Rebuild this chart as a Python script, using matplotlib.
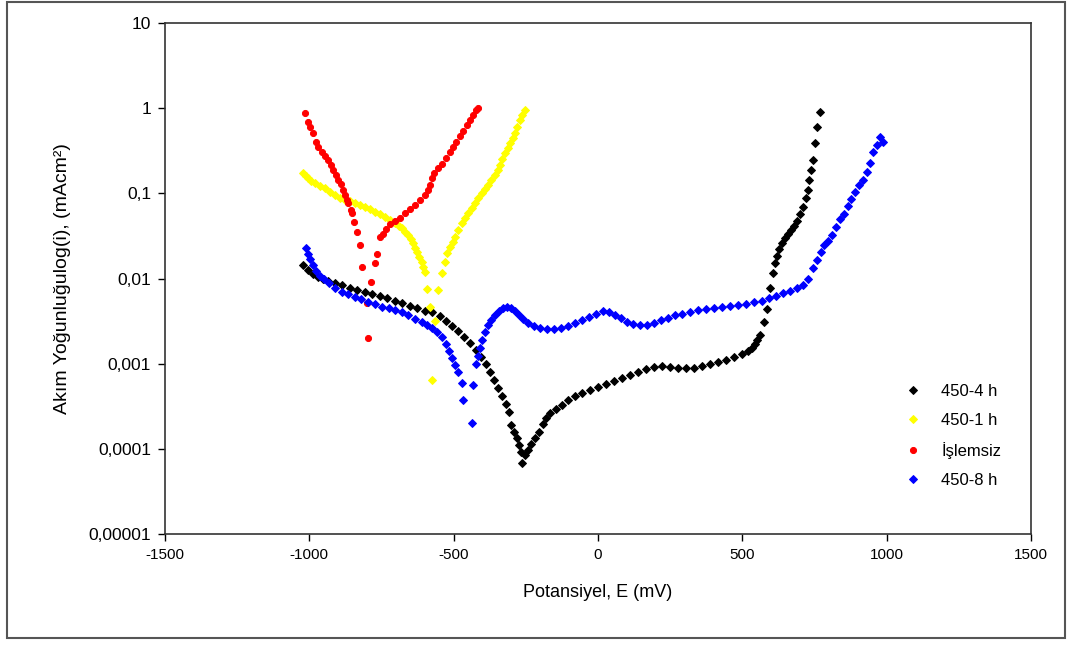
#!/usr/bin/env python3
"""Tafel polarisation curves (log current density vs potential)."""

import matplotlib
matplotlib.use("Agg")
import matplotlib.pyplot as plt
from matplotlib.patches import Rectangle
from matplotlib.ticker import FixedLocator, FixedFormatter

# 450-4h (black)
E_4h = [-1022, -1005, -987, -970, -953, -935, -911, -887, -859, -835,
        -807, -783, -755, -731, -703, -679, -651, -627, -599, -575,
        -547, -527, -506, -485, -464, -443, -423, -405, -388, -374,
        -360, -346, -333, -319, -308, -301, -291, -281, -274, -267,
        -263, -253, -243, -232, -218, -204, -191, -180, -166, -146,
        -125, -104, -80, -56, -28, 0, 28, 55, 83, 111,
        138, 166, 194, 222, 249, 277, 305, 332, 360, 388,
        416, 443, 471, 499, 520, 533, 544, 551, 561, 575,
        585, 596, 606, 613, 620, 627, 637, 648, 658, 668,
        679, 689, 700, 710, 720, 727, 730, 738, 745, 752,
        759, 769]
i_4h = [0.0144, 0.0126, 0.0113, 0.0104, 0.00987, 0.00935, 0.00886, 0.00828, 0.00774, 0.00733,
        0.00694, 0.00658, 0.00615, 0.00583, 0.00545, 0.00510, 0.00476, 0.00451, 0.00416, 0.00405,
        0.00363, 0.00317, 0.00277, 0.00242, 0.00206, 0.00175, 0.00145, 0.00119, 0.00099, 0.000799,
        0.000643, 0.000518, 0.000418, 0.000337, 0.000271, 0.000190, 0.000157, 0.000134, 0.000111, 0.0000919,
        0.0000682, 0.0000847, 0.0000970, 0.000114, 0.000134, 0.000157, 0.000196, 0.000230, 0.000264, 0.000294,
        0.000328, 0.000375, 0.000418, 0.000453, 0.000491, 0.000532, 0.000577, 0.000626, 0.000679, 0.000736,
        0.000799, 0.000866, 0.000914, 0.000939, 0.000914, 0.000890, 0.000890, 0.000890, 0.000939, 0.000987,
        0.00104, 0.00110, 0.00119, 0.00130, 0.00141, 0.00153, 0.00171, 0.00190, 0.00218, 0.00309,
        0.00439, 0.00774, 0.0116, 0.0152, 0.0184, 0.0222, 0.0261, 0.0299, 0.0333, 0.0371,
        0.0413, 0.0473, 0.0572, 0.0691, 0.0881, 0.109, 0.143, 0.188, 0.246, 0.390,
        0.601, 0.902]

# 450-1h (yellow)
E_1h = [-1021, -1012, -1004, -993, -980, -963, -946, -928, -911, -894,
        -876, -859, -842, -825, -807, -790, -773, -755, -738, -721,
        -703, -691, -680, -669, -657, -648, -640, -634, -628, -620,
        -611, -605, -599, -591, -582, -566, -576, -553, -542, -530,
        -523, -513, -504, -495, -485, -472, -461, -449, -438, -426,
        -416, -403, -392, -380, -369, -357, -348, -340, -331, -322,
        -313, -305, -296, -288, -279, -270, -262, -253]
i_1h = [0.172, 0.160, 0.150, 0.139, 0.131, 0.122, 0.114, 0.105, 0.0952, 0.0893,
        0.0835, 0.0802, 0.0764, 0.0729, 0.0696, 0.0654, 0.0608, 0.0572, 0.0531, 0.0486,
        0.0445, 0.0419, 0.0389, 0.0356, 0.0324, 0.0291, 0.0259, 0.0231, 0.0206, 0.0181,
        0.0158, 0.0138, 0.0120, 0.00753, 0.00467, 0.00317, 0.000643, 0.00733, 0.0115, 0.0158,
        0.0199, 0.0236, 0.0268, 0.0307, 0.0371, 0.0445, 0.0513, 0.0583, 0.0672, 0.0764,
        0.0881, 0.0997, 0.112, 0.125, 0.143, 0.164, 0.188, 0.215, 0.253, 0.296,
        0.341, 0.387, 0.447, 0.507, 0.601, 0.726, 0.831, 0.952]

# untreated (red)
E_raw = [-1015, -1006, -998, -986, -978, -969, -957, -946, -934, -925,
         -917, -909, -900, -890, -882, -876, -871, -865, -857, -851,
         -844, -835, -825, -817, -801, -796, -786, -772, -764, -755,
         -745, -734, -721, -703, -686, -669, -651, -634, -617, -599,
         -589, -582, -575, -568, -554, -540, -527, -513, -502, -492,
         -478, -468, -454, -443, -433, -423, -416]
i_raw = [0.878, 0.693, 0.605, 0.507, 0.404, 0.353, 0.308, 0.277, 0.246, 0.215,
         0.188, 0.164, 0.143, 0.127, 0.109, 0.0952, 0.0835, 0.0764, 0.0637, 0.0583,
         0.0464, 0.0354, 0.0247, 0.0138, 0.00516, 0.00199, 0.00898, 0.0152, 0.0194, 0.0307,
         0.0333, 0.0381, 0.0436, 0.0479, 0.0513, 0.0587, 0.0654, 0.0729, 0.0835, 0.0952,
         0.109, 0.125, 0.151, 0.173, 0.196, 0.221, 0.260, 0.306, 0.350, 0.401,
         0.471, 0.539, 0.634, 0.726, 0.831, 0.952, 1.005]

# 450-8h (blue)
E_8h = [-1012, -1005, -998, -987, -977, -963, -949, -932, -911, -887,
        -866, -842, -821, -797, -773, -748, -724, -703, -679, -658,
        -634, -610, -592, -575, -558, -540, -527, -516, -506, -495,
        -485, -472, -432, -467, -438, -423, -416, -409, -402, -392,
        -381, -371, -357, -343, -329, -315, -301, -288, -274, -260,
        -243, -222, -201, -177, -153, -128, -104, -80, -56, -31,
        -7, 17, 38, 59, 80, 100, 121, 145, 170, 194,
        218, 242, 267, 291, 319, 346, 374, 402, 429, 457,
        485, 512, 540, 568, 592, 616, 641, 665, 689, 710,
        727, 745, 759, 773, 783, 797, 811, 825, 838, 852,
        866, 876, 890, 904, 918, 932, 942, 953, 967, 977,
        988]
i_8h = [0.0228, 0.0194, 0.0170, 0.0144, 0.0123, 0.0107, 0.00987, 0.00886, 0.00774, 0.00694,
        0.00649, 0.00607, 0.00568, 0.00531, 0.00496, 0.00463, 0.00445, 0.00427, 0.00399, 0.00373,
        0.00339, 0.00309, 0.00285, 0.00263, 0.00236, 0.00206, 0.00171, 0.00141, 0.00116, 0.000961,
        0.000799, 0.000593, 0.000562, 0.000375, 0.000201, 0.000987, 0.00123, 0.00153, 0.00190, 0.00236,
        0.00285, 0.00326, 0.00373, 0.00416, 0.00451, 0.00463, 0.00445, 0.00416, 0.00373, 0.00335,
        0.00301, 0.00277, 0.00263, 0.00256, 0.00256, 0.00263, 0.00277, 0.00301, 0.00326, 0.00354,
        0.00383, 0.00416, 0.00405, 0.00373, 0.00344, 0.00309, 0.00293, 0.00285, 0.00285, 0.00301,
        0.00326, 0.00344, 0.00373, 0.00383, 0.00405, 0.00421, 0.00439, 0.00451, 0.00463, 0.00476,
        0.00489, 0.00502, 0.00523, 0.00545, 0.00591, 0.00624, 0.00676, 0.00713, 0.00774, 0.00840,
        0.00987, 0.0133, 0.0165, 0.0205, 0.0247, 0.0275, 0.0324, 0.0402, 0.0499, 0.0572,
        0.0710, 0.0858, 0.103, 0.125, 0.143, 0.178, 0.227, 0.306, 0.370, 0.459,
        0.401]

SERIES_LABELS = ["450-4 h", "450-1 h", "İşlemsiz", "450-8 h"]
SERIES_COLORS = ["black", "#ffff00", "#ff0000", "#0000ff"]

Y_TICKS = [1e-5, 1e-4, 1e-3, 1e-2, 1e-1, 1, 10]
Y_LABELS = ["0,00001", "0,0001", "0,001", "0,01", "0,1", "1", "10"]
X_TICKS = [-1500, -1000, -500, 0, 500, 1000, 1500]


def main():
    plt.rcParams["font.family"] = ["Liberation Sans", "DejaVu Sans"]
    fig = plt.figure(figsize=(10.69, 6.5), dpi=100)

    # chart area border
    fig.patches.append(Rectangle((7 / 1069, 1 - 638 / 650), 1058 / 1069, 636 / 650,
                                 transform=fig.transFigure, fill=False,
                                 edgecolor="#555555", linewidth=1.5))

    ax = fig.add_axes([165 / 1069, 1 - 534 / 650, 866 / 1069, 511 / 650])

    data = [(E_4h, i_4h, "D", 4.4), (E_1h, i_1h, "D", 4.4),
            (E_raw, i_raw, "o", 4.4), (E_8h, i_8h, "D", 4.4)]
    for (E, i, marker, ms), label, color in zip(data, SERIES_LABELS, SERIES_COLORS):
        ax.plot(E, i, linestyle="none", marker=marker, markersize=ms,
                color=color, markeredgewidth=0.7, label=label)

    ax.set_yscale("log")
    ax.set_ylim(1e-5, 10)
    ax.set_xlim(-1500, 1500)
    ax.yaxis.set_major_locator(FixedLocator(Y_TICKS))
    ax.yaxis.set_major_formatter(FixedFormatter(Y_LABELS))
    ax.yaxis.set_minor_locator(FixedLocator([]))
    ax.set_xticks(X_TICKS)
    ax.set_xticklabels([str(x) for x in X_TICKS])
    ax.tick_params(direction="out", length=5, width=1, labelsize=11, pad=5)
    ax.tick_params(axis="y", labelsize=12.5)

    for sp in ax.spines.values():
        sp.set_linewidth(1.2)
        sp.set_color("#333333")

    ax.set_xlabel("Potansiyel, E (mV)", fontsize=13)
    ax.xaxis.set_label_coords(0.5, -0.115)
    ax.xaxis.label.set_va("center")
    ax.set_ylabel("Akım Yoğunluğulog(i), (mAcm²)", fontsize=14)
    ax.yaxis.set_label_coords(-0.118, 0.5)
    ax.yaxis.label.set_va("center")

    ax.legend(loc="upper left", bbox_to_anchor=(0.846, 0.306), borderaxespad=0,
              frameon=False, fontsize=12, labelspacing=0.83, handlelength=1.0,
              handletextpad=1.23)

    fig.savefig("out.png", dpi=100)


if __name__ == "__main__":
    main()
